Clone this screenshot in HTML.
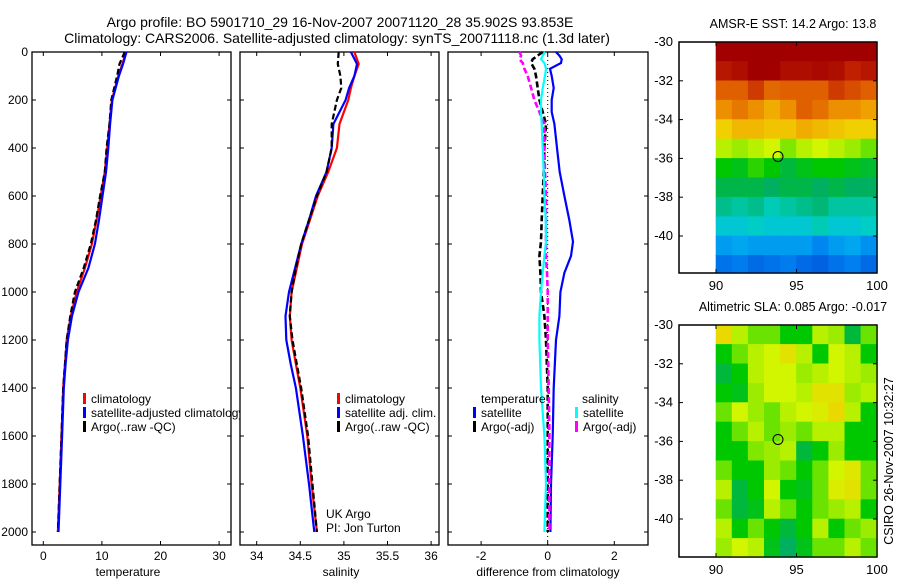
<!DOCTYPE html>
<html><head><meta charset="utf-8"><style>
body{margin:0;background:#fff;}
svg{display:block;font-family:"Liberation Sans",sans-serif;}
</style></head><body>
<svg id="fig" width="900" height="580" viewBox="0 0 900 580">
<text x="340" y="27" font-size="14" text-anchor="middle">Argo profile: BO 5901710_29 16-Nov-2007 20071120_28 35.902S 93.853E</text>
<text x="337" y="43" font-size="14" text-anchor="middle">Climatology: CARS2006. Satellite-adjusted climatology: synTS_20071118.nc (1.3d later)</text>
</svg>
<script>
// ---------- data ----------
const depthT = [0,50,100,200,300,400,500,600,700,800,900,1000,1100,1200,1300,1400,1600,1800,2000];
const climT  = [14.1,13.5,12.8,11.7,11.3,10.9,10.5,9.8,9.1,8.3,7.1,5.7,4.7,4.0,3.7,3.4,3.1,2.8,2.5];
const satT   = [14.2,13.6,12.9,11.8,11.4,11.1,10.7,10.1,9.5,8.8,7.7,6.0,4.9,4.2,3.8,3.5,3.2,2.9,2.6];
const argoT  = [13.9,13.0,12.6,11.6,11.3,10.8,10.5,9.7,9.0,8.1,6.9,5.4,4.6,4.0,3.7,3.4,3.1,2.8,2.5];
const depthS = [0,50,100,150,200,300,400,500,600,700,800,900,1000,1100,1200,1300,1400,1600,1800,2000];
const climS  = [35.12,35.17,35.12,35.08,35.05,34.95,34.92,34.82,34.70,34.61,34.52,34.46,34.40,34.38,34.40,34.45,34.50,34.58,34.63,34.69];
const satS   = [35.08,35.15,35.12,35.06,35.02,34.88,34.86,34.80,34.68,34.60,34.51,34.44,34.37,34.33,34.34,34.39,34.45,34.53,34.60,34.66];
const argoS  = [34.94,34.93,34.96,34.97,34.92,34.86,34.86,34.80,34.69,34.60,34.51,34.45,34.40,34.38,34.41,34.46,34.51,34.59,34.64,34.69];
const depthD = [0,15,30,46,70,100,150,200,250,300,400,500,600,700,790,850,920,1000,1100,1200,1400,1600,1800,2000];
const satTd  = [0.25,0.35,0.42,0.4,0.07,0.12,0.18,0.12,0.12,0.2,0.28,0.36,0.5,0.65,0.76,0.7,0.5,0.38,0.35,0.25,0.18,0.15,0.1,0.08];
const argoTd = [-0.15,-0.3,-0.45,-0.5,-0.4,-0.35,-0.3,-0.25,-0.15,-0.05,-0.1,-0.12,-0.15,-0.18,-0.2,-0.25,-0.22,-0.2,-0.1,-0.05,0,0,0,0];
const satSd  = [-0.08,-0.15,-0.2,-0.1,-0.05,-0.08,-0.15,-0.2,-0.2,-0.18,-0.15,-0.12,-0.1,-0.06,-0.05,-0.1,-0.15,-0.2,-0.25,-0.25,-0.2,-0.1,-0.05,-0.1];
const argoSd = [-0.85,-0.8,-0.85,-0.75,-0.7,-0.6,-0.5,-0.4,-0.25,-0.1,-0.1,-0.08,-0.05,-0.05,-0.05,-0.05,-0.02,0,0,0,0.03,0.05,0.05,0.05];
const depthTicks = [0,200,400,600,800,1000,1200,1400,1600,1800,2000];
const tTicks = [0,10,20,30];
const sTicks = [34,34.5,35,35.5,36];
const sTickLabels = ["34","34.5","35","35.5","36"];
const dTicks = [-2,0,2];
const latTicks = [-30,-32,-34,-36,-38,-40];
const lonTicks = [90,95,100];
const sstGrid = [
[1,1,1,1,1,1,1,1,1,1],
[0.95,0.97,1,1,0.97,0.97,0.98,0.97,0.93,0.95],
[0.86,0.86,0.9,0.85,0.86,0.86,0.86,0.9,0.88,0.86],
[0.8,0.83,0.8,0.76,0.8,0.86,0.84,0.8,0.8,0.78],
[0.7,0.74,0.74,0.72,0.72,0.76,0.74,0.72,0.7,0.7],
[0.6,0.58,0.6,0.62,0.56,0.6,0.62,0.6,0.58,0.55],
[0.5,0.48,0.52,0.5,0.45,0.48,0.5,0.5,0.48,0.46],
[0.44,0.44,0.44,0.42,0.44,0.44,0.42,0.44,0.42,0.42],
[0.38,0.36,0.38,0.34,0.36,0.38,0.4,0.36,0.36,0.36],
[0.3,0.3,0.32,0.3,0.3,0.3,0.34,0.3,0.3,0.32],
[0.2,0.22,0.2,0.2,0.2,0.2,0.16,0.2,0.22,0.18],
[0.12,0.14,0.1,0.12,0.14,0.1,0.08,0.12,0.15,0.1]];
const slaGrid = [
[0.68,0.6,0.55,0.55,0.5,0.5,0.6,0.58,0.45,0.55],
[0.5,0.55,0.6,0.62,0.66,0.6,0.5,0.62,0.6,0.5],
[0.45,0.5,0.6,0.62,0.62,0.58,0.6,0.62,0.6,0.58],
[0.5,0.48,0.58,0.62,0.62,0.6,0.66,0.66,0.58,0.6],
[0.55,0.62,0.58,0.55,0.6,0.62,0.64,0.68,0.6,0.5],
[0.5,0.55,0.6,0.55,0.58,0.55,0.6,0.6,0.5,0.5],
[0.5,0.5,0.56,0.58,0.6,0.45,0.5,0.58,0.5,0.5],
[0.55,0.5,0.5,0.58,0.55,0.5,0.55,0.62,0.65,0.55],
[0.6,0.45,0.5,0.62,0.5,0.48,0.55,0.64,0.66,0.55],
[0.55,0.45,0.48,0.6,0.55,0.5,0.55,0.58,0.6,0.5],
[0.6,0.5,0.55,0.5,0.45,0.5,0.6,0.5,0.55,0.58],
[0.58,0.62,0.6,0.48,0.42,0.48,0.55,0.55,0.6,0.55]];
const argoLon = 93.85, argoLat = -35.9;

// ---------- helpers ----------
const NS="http://www.w3.org/2000/svg", svg=document.getElementById('fig');
function mk(tag,attrs,parent){const e=document.createElementNS(NS,tag);for(const k in attrs)e.setAttribute(k,attrs[k]);(parent||svg).appendChild(e);return e;}
function txt(x,y,s,size,anchor,name){const t=mk('text',{x:x,y:y,'font-size':size,'text-anchor':anchor});t.textContent=s;


return t;}
const yD = d => 52 + d*0.24;
function panel(x0,x1,y0,y1,name){const r=mk('rect',{x:x0,y:y0,width:x1-x0,height:y1-y0,fill:'#fff',stroke:'#000','stroke-width':1.3});


return r;}
function line(xs,ds,xf,color,dash,name,w){const pts=ds.map((d,i)=>xf(xs[i]).toFixed(1)+','+yD(d).toFixed(1)).join(' ');
const p=mk('polyline',{points:pts,fill:'none',stroke:color,'stroke-width':w||2.2});if(dash)p.setAttribute('stroke-dasharray',dash);


}
function depthAxis(x0,x1,labels){depthTicks.forEach(d=>{const y=yD(d);mk('line',{x1:x0,y1:y,x2:x0+4,y2:y,stroke:'#000'});mk('line',{x1:x1,y1:y,x2:x1-4,y2:y,stroke:'#000'});
if(labels)txt(x0-4,y+4,String(d),12,'end','depth-tick-label');});}
function xAxis(ticks,lbls,xf,x0,x1,y0,y1){ticks.forEach((v,i)=>{const x=xf(v);mk('line',{x1:x,y1:y1,x2:x,y2:y1-4,stroke:'#000'});mk('line',{x1:x,y1:y0,x2:x,y2:y0+4,stroke:'#000'});
txt(x,y1+15,lbls[i],12,'middle','x-tick-label');});}
function legend(x,y,items){items.forEach((it,i)=>{const yy=y+i*14;mk('rect',{x:x,y:yy-10,width:3,height:11,fill:it[0]});txt(x+8,yy,it[1],12,'start','legend-entry');});}

// ---------- panel 1: temperature ----------
const P1={x0:32,x1:231,y0:52,y1:545};
const xT = v => 43.3 + v*5.86;
panel(P1.x0,P1.x1,P1.y0,P1.y1,'temperature-panel');
depthAxis(P1.x0,P1.x1,true);
xAxis(tTicks,tTicks.map(String),xT,P1.x0,P1.x1,P1.y0,P1.y1);
line(climT,depthT,xT,'#f00',null,'climatology-temperature-line');
line(argoT,depthT,xT,'#000','6,3','argo-temperature-line');
line(satT,depthT,xT,'#00f',null,'satellite-temperature-line');
legend(83,403,[['#f00','climatology'],['#00f','satellite-adjusted climatology'],['#000','Argo(..raw -QC)']]);
txt(128,576,'temperature',12,'middle','x-axis-title-temperature');

// ---------- panel 2: salinity ----------
const P2={x0:240,x1:439,y0:52,y1:545};
const xS = v => 256.7 + (v-34)*87.2;
panel(P2.x0,P2.x1,P2.y0,P2.y1,'salinity-panel');
depthAxis(P2.x0,P2.x1,false);
xAxis(sTicks,sTickLabels,xS,P2.x0,P2.x1,P2.y0,P2.y1);
line(climS,depthS,xS,'#f00',null,'climatology-salinity-line');
line(satS,depthS,xS,'#00f',null,'satellite-salinity-line');
line(argoS,depthS,xS,'#000','6,3','argo-salinity-line');
legend(337,403,[['#f00','climatology'],['#00f','satellite adj. clim.'],['#000','Argo(..raw -QC)']]);
txt(326,518,'UK Argo',12,'start','ukargo-label');
txt(326,532,'PI: Jon Turton',12,'start','pi-label');
txt(341,576,'salinity',12,'middle','x-axis-title-salinity');

// ---------- panel 3: differences ----------
const P3={x0:448,x1:648,y0:52,y1:545};
const xDf = v => 547.7 + v*33.3;
panel(P3.x0,P3.x1,P3.y0,P3.y1,'difference-panel');
depthAxis(P3.x0,P3.x1,false);
xAxis(dTicks,dTicks.map(String),xDf,P3.x0,P3.x1,P3.y0,P3.y1);
const zl=mk('line',{x1:xDf(0),y1:P3.y0,x2:xDf(0),y2:P3.y1,stroke:'#000','stroke-dasharray':'1,3'});


line(satTd,depthD,xDf,'#00f',null,'satellite-temperature-diff-line');
line(argoTd,depthD,xDf,'#000','6,3','argo-temperature-diff-line',2.6);
line(argoSd,depthD,xDf,'#f0f','6,3','argo-salinity-diff-line',2.6);
line(satSd,depthD,xDf,'#0ff',null,'satellite-salinity-diff-line');
txt(481,403,'temperature',12,'start','legend-title-temperature');
legend(473,417,[['#00f','satellite'],['#000','Argo(-adj)']]);
txt(582,403,'salinity',12,'start','legend-title-salinity');
legend(575,417,[['#0ff','satellite'],['#f0f','Argo(-adj)']]);
txt(548,576,'difference from climatology',12,'middle','x-axis-title-difference');

// ---------- maps ----------
const stops=[[0,[0,64,208]],[0.15,[0,128,240]],[0.25,[0,184,240]],[0.33,[0,208,192]],[0.42,[0,176,96]],[0.5,[0,200,0]],[0.56,[128,232,0]],[0.62,[210,245,0]],[0.7,[240,208,0]],[0.78,[240,160,0]],[0.86,[224,96,0]],[0.93,[192,32,0]],[1,[160,0,0]]];
function cmap(v){v=Math.max(0,Math.min(1,v));for(let i=1;i<stops.length;i++){if(v<=stops[i][0]){const a=stops[i-1],b=stops[i],t=(v-a[0])/(b[0]-a[0]);
return 'rgb('+a[1].map((c,k)=>Math.round(c+(b[1][k]-c)*t)).join(',')+')';}}return 'rgb(160,0,0)';}
function map(M,grid,title,name){
  const lonX = l => 716 + (l-90)*16.1;
  const latY = la => M.yTop + (-30-la)*19.4;
  panel(679,877,M.yTop,M.yBot,name);
  const clipId=name+'-clip';const cp=mk('clipPath',{id:clipId});mk('rect',{x:679,y:M.yTop,width:198,height:M.yBot-M.yTop},cp);
  const g=mk('g',{'clip-path':'url(#'+clipId+')'});
  
  
  grid.forEach((row,r)=>row.forEach((v,c)=>{mk('rect',{x:lonX(90+c)-0.3,y:latY(-30-r)-0.3,width:16.1+0.6,height:19.4+0.6,fill:cmap(v)},g);}));
  mk('rect',{x:679,y:M.yTop,width:198,height:M.yBot-M.yTop,fill:'none',stroke:'#000','stroke-width':1.3});
  latTicks.forEach(la=>{const y=latY(la);mk('line',{x1:679,y1:y,x2:683,y2:y,stroke:'#000'});mk('line',{x1:877,y1:y,x2:873,y2:y,stroke:'#000'});txt(673,y+4,String(la),13,'end','lat-tick-label');});
  lonTicks.forEach(lo=>{const x=lonX(lo);mk('line',{x1:x,y1:M.yBot,x2:x,y2:M.yBot-4,stroke:'#000'});mk('line',{x1:x,y1:M.yTop,x2:x,y2:M.yTop+4,stroke:'#000'});txt(x,M.yBot+17,String(lo),13,'middle','lon-tick-label');});
  const c=mk('circle',{cx:lonX(argoLon),cy:latY(argoLat),r:5,fill:'none',stroke:'#000','stroke-width':1});
  
  
  txt(793,M.yTop-14,title,12.5,'middle',name+'-title');
}
map({yTop:42,yBot:273},sstGrid,'AMSR-E SST: 14.2 Argo: 13.8','sst-map');
map({yTop:325,yBot:557},slaGrid,'Altimetric SLA: 0.085 Argo: -0.017','sla-map');
const cs=txt(0,0,'CSIRO 26-Nov-2007 10:32:27',12.5,'middle','csiro-timestamp');
cs.setAttribute('transform','translate(893,461) rotate(-90)');
</script>
</body></html>
